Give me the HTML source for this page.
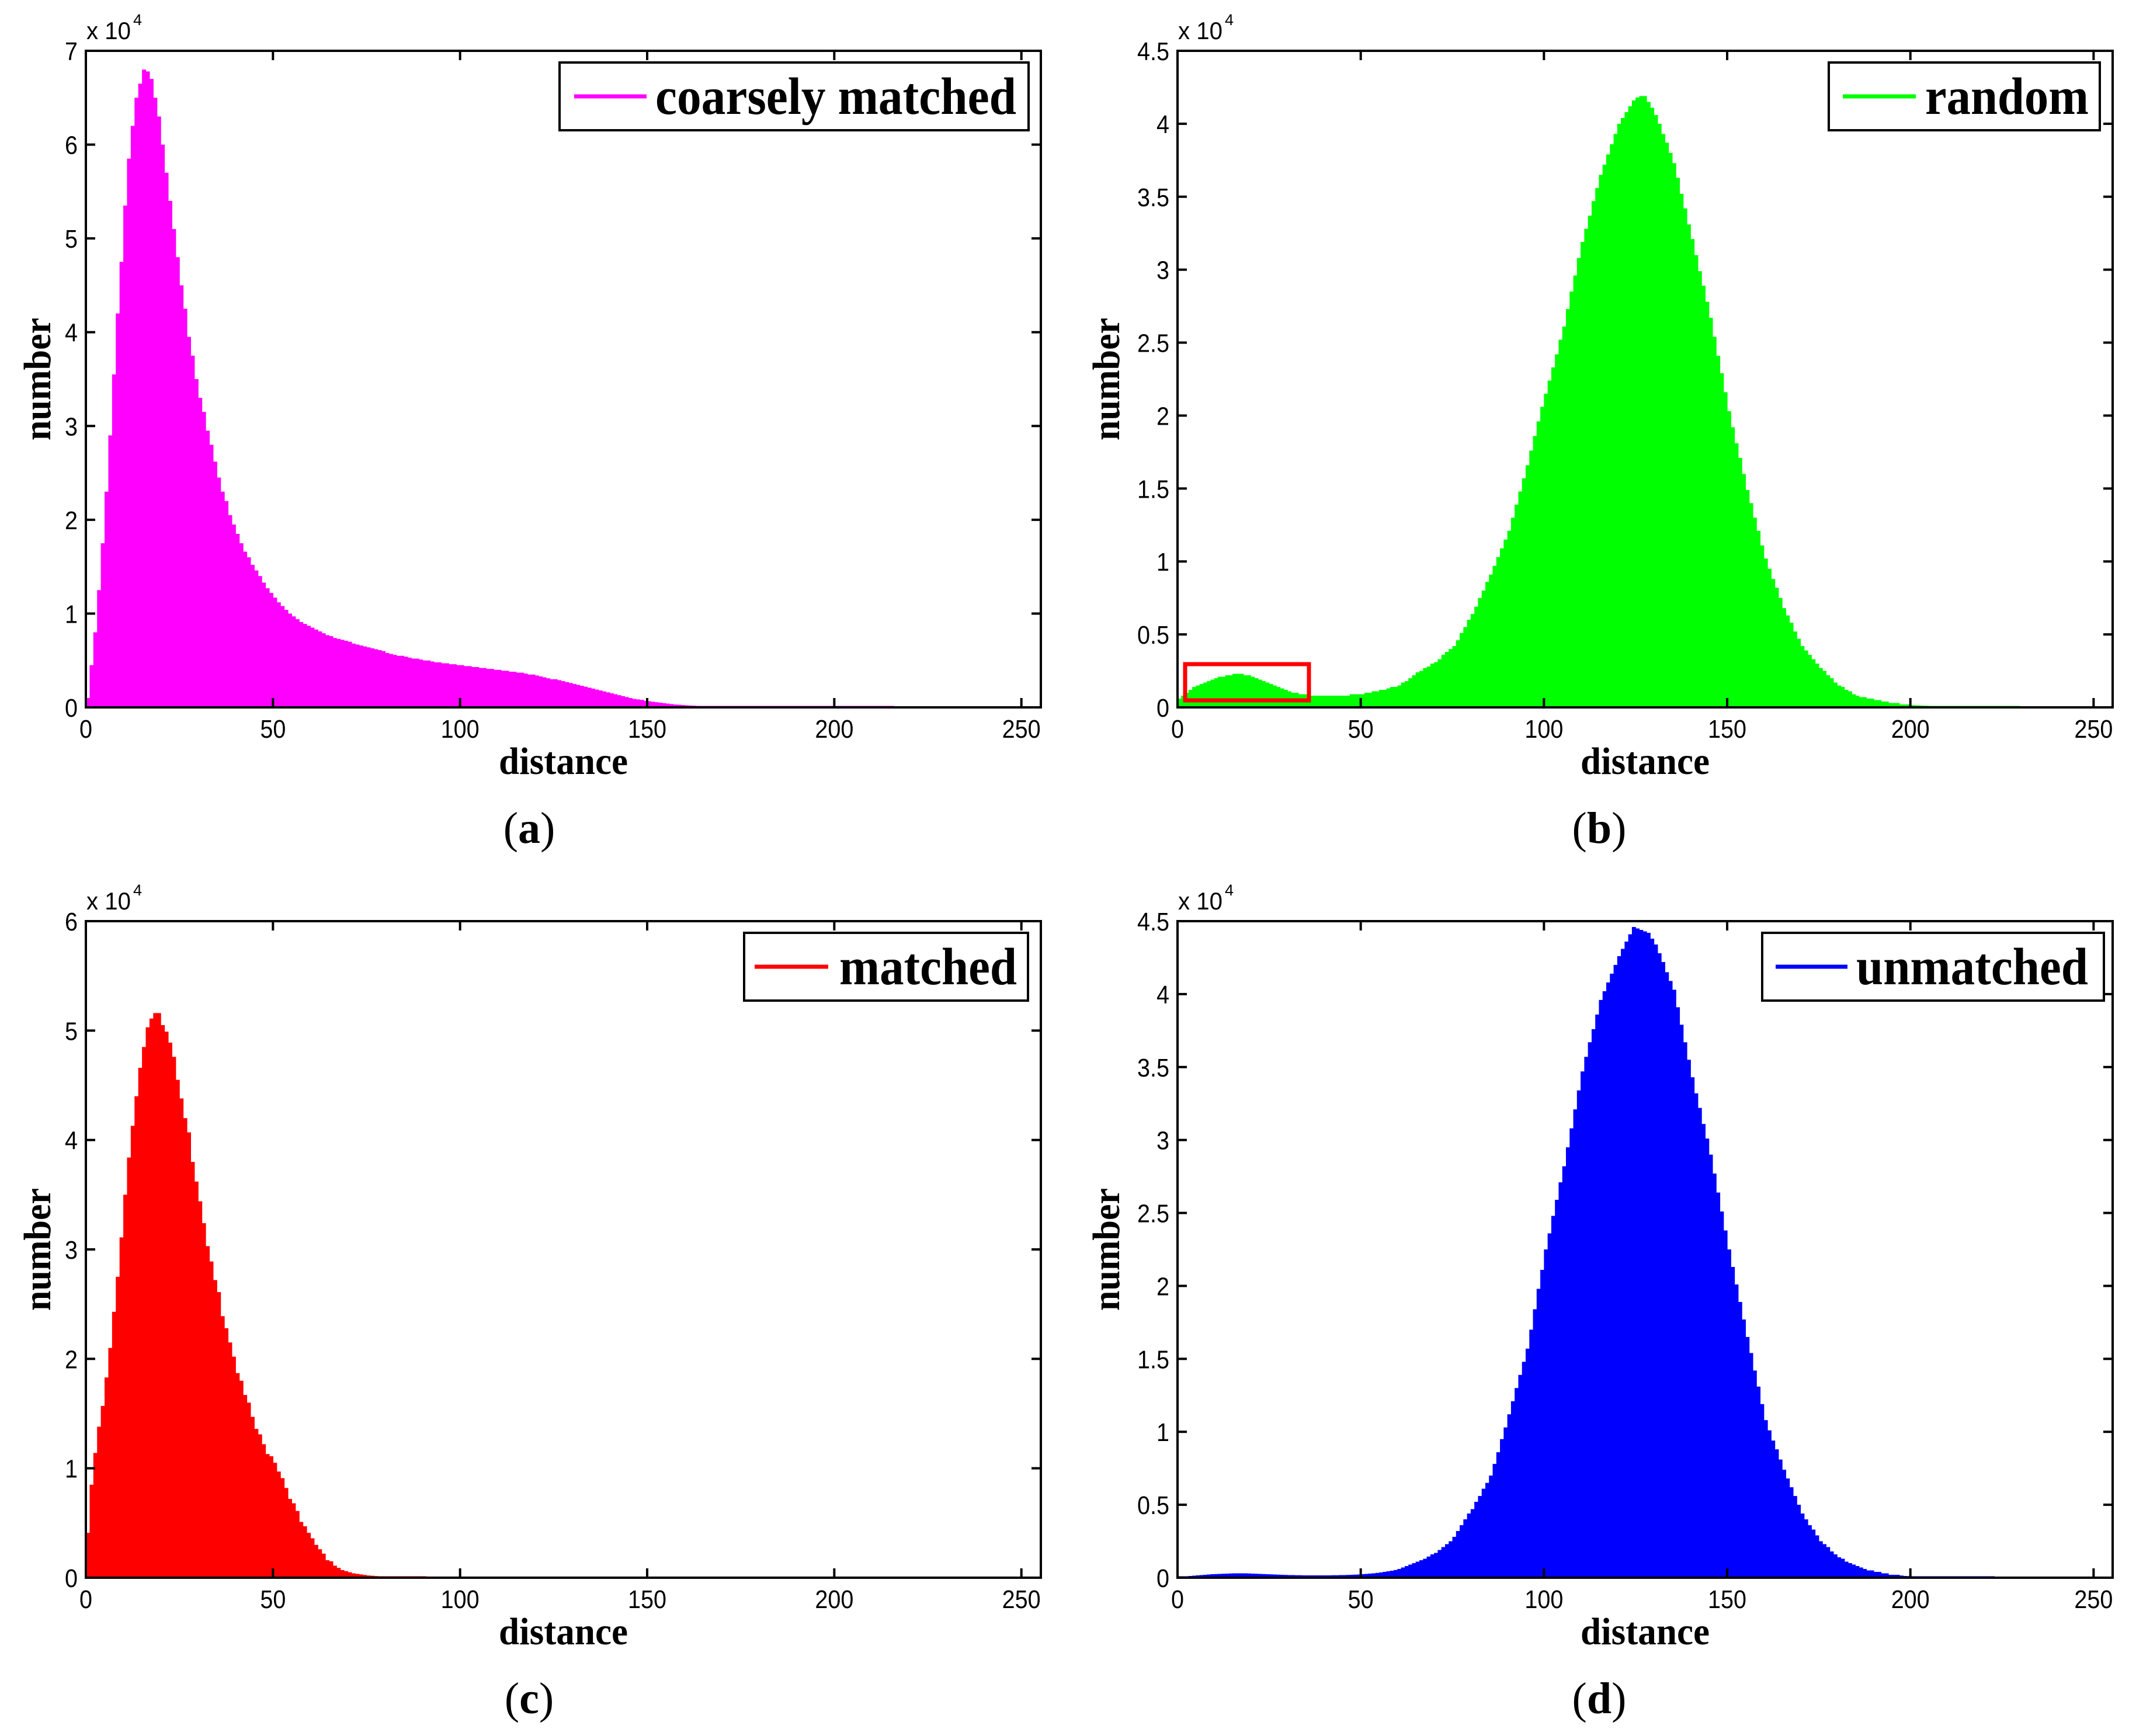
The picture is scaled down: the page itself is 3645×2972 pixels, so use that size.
<!DOCTYPE html>
<html><head><meta charset="utf-8"><title>Distance histograms</title>
<style>html,body{margin:0;padding:0;background:#fff;}svg{display:block;}</style></head>
<body>
<svg id="fig" width="3645" height="2972" viewBox="0 0 3645 2972" xmlns="http://www.w3.org/2000/svg"></svg>
<script>
// ---- data (units of 1e4) ----
const xTicks = [0, 50, 100, 150, 200, 250];
const yTicksA = [0, 1, 2, 3, 4, 5, 6, 7];
const yTicksB = [0, 0.5, 1, 1.5, 2, 2.5, 3, 3.5, 4, 4.5];
const yTicksC = [0, 1, 2, 3, 4, 5, 6];
const yTicksD = [0, 0.5, 1, 1.5, 2, 2.5, 3, 3.5, 4, 4.5];
const yTickLabelsA = ["0","1","2","3","4","5","6","7"];
const yTickLabelsB = ["0","0.5","1","1.5","2","2.5","3","3.5","4","4.5"];
const yTickLabelsC = ["0","1","2","3","4","5","6"];
const yTickLabelsD = ["0","0.5","1","1.5","2","2.5","3","3.5","4","4.5"];
const coarselyMatched = [
0.1,0.45,0.8,1.25,1.75,2.3,2.9,3.55,4.2,4.75,5.35,5.85,6.2,6.5,6.65,6.8,6.78,6.7,6.5,6.3,
6.0,5.7,5.4,5.1,4.8,4.5,4.25,3.95,3.75,3.5,3.3,3.15,2.95,2.8,2.62,2.45,2.3,2.2,2.05,1.95,
1.85,1.75,1.66,1.6,1.52,1.46,1.4,1.33,1.27,1.22,1.17,
1.12,1.08,1.04,1.0,0.97,0.94,0.91,0.89,0.87,0.85,
0.83,0.81,0.79,0.77,0.76,0.74,0.73,0.72,0.71,0.70,
0.68,0.67,0.66,0.65,0.64,0.63,0.62,0.61,0.60,0.58,
0.57,0.56,0.55,0.55,0.54,0.53,0.52,0.52,0.51,0.50,
0.50,0.49,0.48,0.48,0.47,0.47,0.46,0.46,0.45,0.45,
0.44,0.44,0.43,0.43,0.42,0.42,0.41,0.41,0.40,0.40,
0.39,0.39,0.38,0.38,0.37,0.37,0.36,0.35,0.35,0.34,
0.33,0.32,0.31,0.30,0.30,0.29,0.28,0.27,0.26,0.25,
0.24,0.23,0.22,0.21,0.20,0.19,0.18,0.17,0.16,0.15,
0.14,0.13,0.12,0.11,0.10,0.09,0.085,0.08,0.07,0.065,
0.06,0.055,0.05,0.045,0.04,0.035,0.03,0.028,0.025,0.022,
0.02,0.018,0.016,0.014,0.013,0.012,0.011,0.01,0.009,0.008,
0.007,0.007,0.006,0.006,0.005,0.005,0.005,0.004,0.004,0.004,
0.003,0.003,0.003,0.003,0.003,0.003,0.003,0.003,0.003,0.003,
0.003,0.003,0.003,0.003,0.003,0.003,0.003,0.003,0.003,0.003,
0.002,0.002,0.002,0.002,0.002,0.002,0.002,0.002,0.002,0.002,
0.002,0.002,0.002,0.002,0.002];
const random = [
0.06,0.08,0.10,0.12,0.14,0.15,0.16,0.17,0.18,0.19,
0.20,0.21,0.21,0.22,0.22,0.23,0.23,0.23,0.22,0.22,
0.21,0.20,0.19,0.18,0.17,0.16,0.15,0.14,0.13,0.12,
0.11,0.10,0.10,0.09,0.09,0.09,0.08,0.08,0.08,0.08,
0.08,0.08,0.08,0.08,0.08,0.08,0.08,0.09,0.09,0.09,
0.09,0.10,0.10,0.11,0.11,0.12,0.12,0.13,0.14,0.14,
0.15,0.17,0.18,0.20,0.22,0.24,0.25,0.27,0.28,0.30,
0.31,0.33,0.36,0.38,0.40,0.42,0.46,0.51,0.55,0.60,
0.64,0.69,0.75,0.80,0.86,0.91,0.97,1.03,1.09,1.15,
1.21,1.30,1.39,1.48,1.57,1.66,1.76,1.86,1.96,2.06,
2.15,2.24,2.33,2.42,2.52,2.61,2.73,2.85,2.96,3.08,
3.19,3.28,3.37,3.47,3.56,3.65,3.72,3.79,3.86,3.93,
4.00,4.04,4.08,4.12,4.16,4.18,4.19,4.19,4.15,4.11,
4.06,4.00,3.93,3.87,3.80,3.73,3.63,3.52,3.42,3.31,
3.21,3.10,2.99,2.89,2.78,2.67,2.54,2.41,2.29,2.16,
2.03,1.92,1.81,1.71,1.60,1.49,1.40,1.30,1.21,1.11,
1.02,0.95,0.88,0.82,0.75,0.68,0.63,0.58,0.52,0.47,
0.42,0.39,0.36,0.33,0.30,0.27,0.25,0.22,0.20,0.17,
0.15,0.14,0.12,0.11,0.09,0.08,0.07,0.07,0.06,0.06,
0.05,0.05,0.04,0.04,0.03,0.03,0.03,0.02,0.02,0.02,
0.015,0.014,0.013,0.012,0.011,0.010,0.009,0.008,0.008,0.007,
0.007,0.006,0.006,0.006,0.005,0.005,0.005,0.005,0.004,0.004,
0.004,0.004,0.003,0.003,0.003,0.003,0.003,0.002,0.002,0.002];
const matched = [
0.41,0.85,1.14,1.38,1.57,1.83,2.1,2.43,2.75,3.11,
3.5,3.84,4.13,4.4,4.66,4.85,5.03,5.11,5.16,5.16,
5.05,4.99,4.89,4.76,4.55,4.38,4.2,4.07,3.8,3.62,
3.44,3.24,3.03,2.89,2.72,2.61,2.39,2.28,2.15,2.02,
1.87,1.8,1.67,1.6,1.47,1.36,1.31,1.22,1.13,1.11,
1.05,0.97,0.91,0.82,0.72,0.68,0.61,0.51,0.47,0.41,
0.36,0.3,0.26,0.22,0.16,0.15,0.11,0.09,0.07,0.06,
0.05,0.04,0.035,0.03,0.025,0.02,0.018,0.015,0.012,0.01,
0.008,0.006,0.005,0.004,0.004,0.003,0.003,0.002,0.002,0.002,0.001];
const unmatched = [
0.005,0.008,0.01,0.012,0.014,0.016,0.018,0.02,0.022,0.024,
0.025,0.026,0.027,0.028,0.029,0.03,0.03,0.03,0.03,0.029,
0.028,0.027,0.026,0.025,0.024,0.023,0.022,0.021,0.02,0.019,
0.018,0.018,0.017,0.017,0.016,0.016,0.016,0.016,0.016,0.016,
0.016,0.016,0.017,0.017,0.018,0.018,0.019,0.02,0.021,0.022,
0.024,0.026,0.028,0.03,0.033,0.036,0.04,0.044,0.048,0.053,
0.06,0.07,0.08,0.09,0.10,0.11,0.12,0.13,0.145,0.16,
0.17,0.19,0.21,0.23,0.25,0.28,0.32,0.36,0.40,0.44,
0.47,0.52,0.56,0.61,0.65,0.70,0.78,0.86,0.95,1.03,
1.12,1.21,1.30,1.39,1.48,1.57,1.70,1.84,1.98,2.11,
2.25,2.36,2.48,2.59,2.71,2.82,2.95,3.08,3.21,3.34,
3.47,3.57,3.67,3.76,3.86,3.96,4.02,4.08,4.14,4.20,
4.26,4.31,4.36,4.41,4.46,4.45,4.44,4.43,4.42,4.38,
4.34,4.28,4.22,4.15,4.09,4.03,3.91,3.79,3.67,3.55,
3.43,3.32,3.22,3.11,3.01,2.90,2.77,2.64,2.51,2.38,
2.25,2.13,2.01,1.89,1.77,1.65,1.54,1.42,1.31,1.19,
1.08,1.01,0.94,0.88,0.81,0.74,0.68,0.62,0.56,0.50,
0.44,0.40,0.36,0.33,0.29,0.25,0.23,0.21,0.18,0.16,
0.14,0.13,0.11,0.10,0.09,0.08,0.07,0.06,0.05,0.05,
0.04,0.04,0.03,0.03,0.02,0.02,0.02,0.015,0.012,0.011,
0.010,0.009,0.008,0.008,0.007,0.007,0.006,0.006,0.005,0.005,
0.005,0.005,0.004,0.004,0.004,0.004,0.004,0.003,0.003,0.003,0.003,0.003,0.003];

const NS = "http://www.w3.org/2000/svg";
const svg = document.getElementById("fig");
function mk(tag, attrs, parent) {
  const e = document.createElementNS(NS, tag);
  for (const k in attrs) e.setAttribute(k, attrs[k]);
  (parent || svg).appendChild(e);
  return e;
}
function tlen(s) { let w = 0; for (const c of s) w += (c === ".") ? 11 : 22; return w; }

function panel(cfg) {
  const g = mk("g", {});
  
  
  const L = cfg.L, R = cfg.R, T = cfg.T, B = cfg.B;
  const xmax = 255.2;
  const xs = v => L + (v / xmax) * (R - L);
  const ys = v => B - (v / cfg.ymax) * (B - T);
  // bars
  const bars = mk("g", {}, g);
  
  
  cfg.data.forEach((v, i) => {
    const x0 = xs(i), x1 = xs(i + 1);
    const r = mk("rect", { x: x0.toFixed(2), y: ys(v).toFixed(2), width: (x1 - x0 + 0.6).toFixed(2), height: Math.max(0, B - ys(v)).toFixed(2), fill: cfg.color }, bars);
    
    
  });
  // baseline of series
  const bl = mk("line", { x1: L, y1: B - 1, x2: xs(cfg.data.length), y2: B - 1, stroke: cfg.color, "stroke-width": 3 }, g);
  
  
  // box
  const box = mk("rect", { x: L, y: T, width: R - L, height: B - T, fill: "none", stroke: "#000", "stroke-width": 4 }, g);
  
  
  // x ticks
  xTicks.forEach(t => {
    const x = xs(t);
    mk("line", { x1: x, y1: B, x2: x, y2: B - 16, stroke: "#000", "stroke-width": 4 }, g);
    mk("line", { x1: x, y1: T, x2: x, y2: T + 16, stroke: "#000", "stroke-width": 4 }, g);
    const s = String(t);
    const tx = mk("text", { x: x, y: B + 52, "text-anchor": "middle", "font-family": "Liberation Sans, sans-serif", "font-size": 44, textLength: tlen(s), lengthAdjust: "spacingAndGlyphs" }, g);
    tx.textContent = s;
    
    
  });
  cfg.yTicks.forEach((t, i) => {
    const y = ys(t);
    mk("line", { x1: L, y1: y, x2: L + 16, y2: y, stroke: "#000", "stroke-width": 4 }, g);
    mk("line", { x1: R, y1: y, x2: R - 16, y2: y, stroke: "#000", "stroke-width": 4 }, g);
    const s = cfg.yLabels[i];
    const tx = mk("text", { x: L - 14, y: y + 16, "text-anchor": "end", "font-family": "Liberation Sans, sans-serif", "font-size": 44, textLength: tlen(s), lengthAdjust: "spacingAndGlyphs" }, g);
    tx.textContent = s;
    
    
  });
  // exponent
  const ex = mk("text", { x: L + 1, y: T - 20, "font-family": "Liberation Sans, sans-serif", "font-size": 42, textLength: 76, lengthAdjust: "spacingAndGlyphs" }, g);
  ex.textContent = "x 10";
  
  
  const ex4 = mk("text", { x: L + 81, y: T - 44, "font-family": "Liberation Sans, sans-serif", "font-size": 27 }, g);
  ex4.textContent = "4";
  
  
  // axis titles
  const xt = mk("text", { x: (L + R) / 2, y: B + 114, "text-anchor": "middle", "font-family": "Liberation Serif, serif", "font-weight": "bold", "font-size": 66, textLength: 221, lengthAdjust: "spacingAndGlyphs" }, g);
  xt.textContent = "distance";
  
  
  const yx = cfg.ytitleX, yc = (T + B) / 2;
  const yt = mk("text", { x: 0, y: 0, transform: `translate(${yx},${yc}) rotate(-90)`, "text-anchor": "middle", "font-family": "Liberation Serif, serif", "font-weight": "bold", "font-size": 66, textLength: 210, lengthAdjust: "spacingAndGlyphs" }, g);
  yt.textContent = "number";
  
  
  // legend
  const lg = mk("g", {}, g);
  
  
  const lt = cfg.leg;
  mk("rect", { x: lt.x, y: T + 20, width: lt.w, height: 116, fill: "#fff", stroke: "#000", "stroke-width": 4 }, lg);
  const ll = mk("line", { x1: lt.l1, y1: T + 78, x2: lt.l2, y2: T + 78, stroke: cfg.color, "stroke-width": 7 }, lg);
  
  
  const ltx = mk("text", { x: lt.tx, y: T + 108, "font-family": "Liberation Serif, serif", "font-weight": "bold", "font-size": 90, textLength: lt.tl, lengthAdjust: "spacingAndGlyphs" }, lg);
  ltx.textContent = cfg.label;
  
  
  // panel letter
  const pl = mk("text", { x: cfg.capX, y: B + 232, "text-anchor": "middle", "font-family": "Liberation Serif, serif", "font-size": 76 }, g);
  
  
  pl.innerHTML = '(<tspan font-weight="bold">' + cfg.cap + '</tspan>)';
  return { g, xs, ys };
}

panel({ name: "panel-a-coarsely-matched", L: 147, R: 1782, T: 87, B: 1211, ymax: 7, yTicks: yTicksA, yLabels: yTickLabelsA, data: coarselyMatched, color: "#ff00ff", label: "coarsely matched", ytitleX: 86, capX: 906, cap: "a", leg: { x: 958, w: 803, l1: 983, l2: 1107, tx: 1122, tl: 618 } });
const pb = panel({ name: "panel-b-random", L: 2016, R: 3617, T: 87, B: 1211, ymax: 4.5, yTicks: yTicksB, yLabels: yTickLabelsB, data: random, color: "#00ff00", label: "random", ytitleX: 1916, capX: 2738, cap: "b", leg: { x: 3131, w: 464, l1: 3155, l2: 3280, tx: 3296, tl: 280 } });
panel({ name: "panel-c-matched", L: 147, R: 1782, T: 1577, B: 2701, ymax: 6, yTicks: yTicksC, yLabels: yTickLabelsC, data: matched, color: "#ff0000", label: "matched", ytitleX: 86, capX: 906, cap: "c", leg: { x: 1274, w: 486, l1: 1292, l2: 1418, tx: 1437, tl: 304 } });
panel({ name: "panel-d-unmatched", L: 2016, R: 3617, T: 1577, B: 2701, ymax: 4.5, yTicks: yTicksD, yLabels: yTickLabelsD, data: unmatched, color: "#0000ff", label: "unmatched", ytitleX: 1916, capX: 2738, cap: "d", leg: { x: 3017, w: 585, l1: 3040, l2: 3163, tx: 3178, tl: 397 } });

// highlight box in panel b (around the small bump)
const hb = mk("rect", { x: 2029, y: 1137, width: 212, height: 62, fill: "none", stroke: "#ff0000", "stroke-width": 7 });


</script>
</body></html>
